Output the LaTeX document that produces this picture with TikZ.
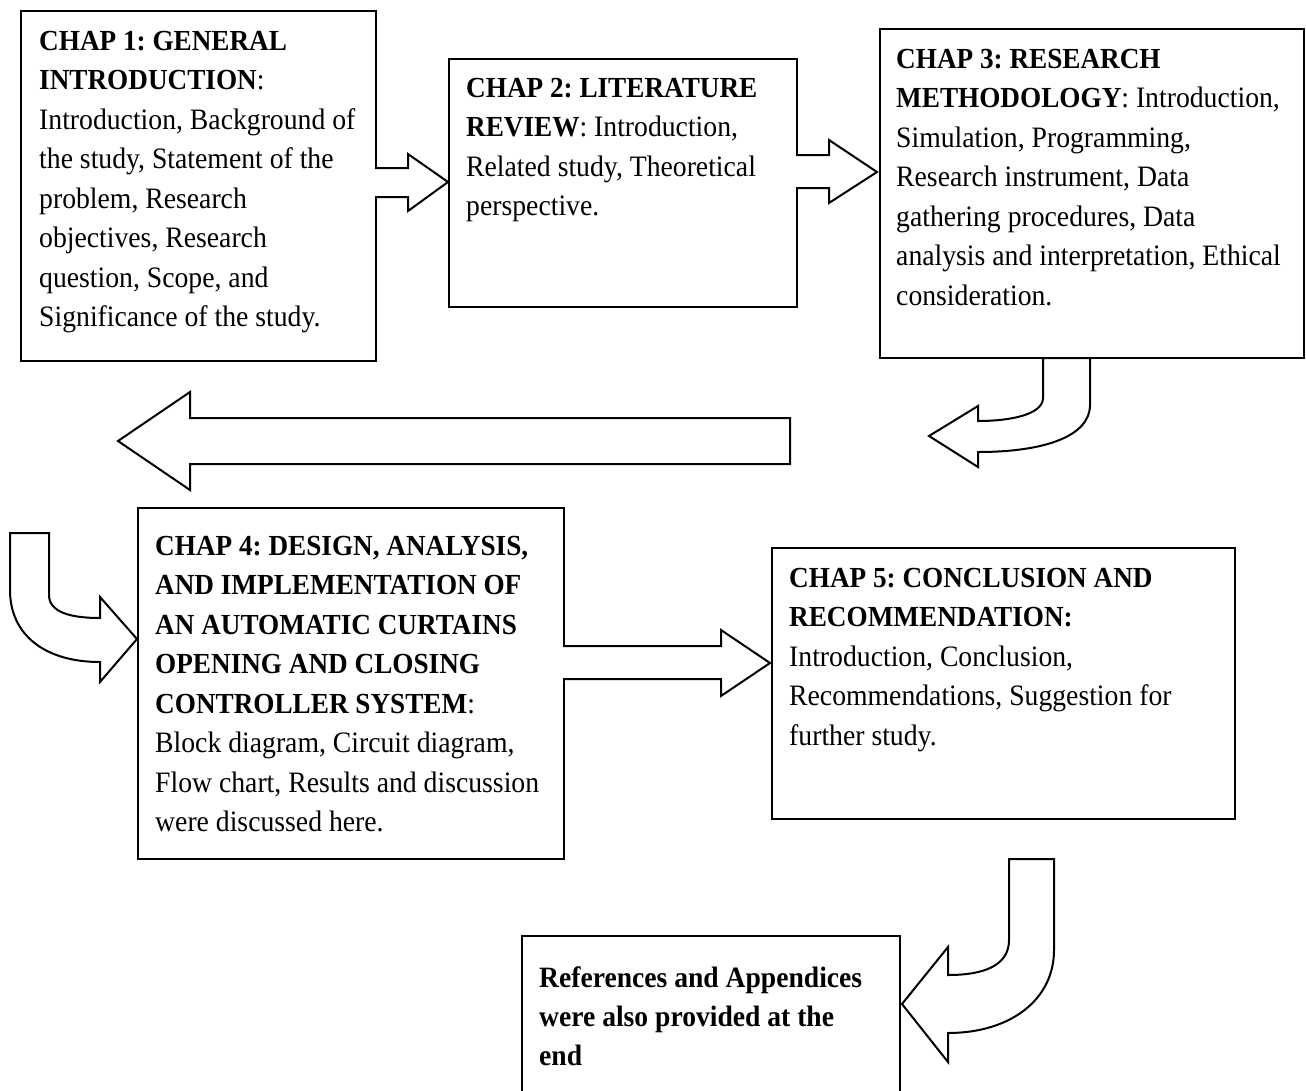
\documentclass[tikz,border=0pt]{standalone}
\usepackage{fontspec}
\usepackage{graphicx}
\setmainfont{Liberation Serif}
\frenchspacing
\newcommand{\bx}[1]{{\fontsize{27.2}{36.9}\selectfont\bfseries #1}}
\newcommand{\stretched}[1]{\scalebox{1}[1.07]{\begin{tabular}[t]{@{}l@{}}#1\end{tabular}}}
\begin{document}
\begin{tikzpicture}[x=1pt,y=-1pt,
  box/.style={draw=black, line width=2.4pt, rectangle, anchor=north west, inner sep=0pt},
  txt/.style={anchor=north west, inner sep=0pt, align=left,
    font=\fontsize{27.7}{36.9}\selectfont},
  barrow/.style={draw=black, line width=2pt, fill=white, line join=miter}]
\useasboundingbox (0,0) rectangle (1306,1090);
% boxes
\node[box, minimum width=355pt, minimum height=350pt] (b1) at (20,10) {};
\node[box, minimum width=348pt, minimum height=248pt] (b2) at (448,58) {};
\node[box, minimum width=424pt, minimum height=329pt] (b3) at (879,28) {};
\node[box, minimum width=426pt, minimum height=351pt] (b4) at (137,507) {};
\node[box, minimum width=463pt, minimum height=271pt] (b5) at (771,547) {};
\node[box, minimum width=378pt, minimum height=160pt] (b6) at (521,935) {};
% texts
\node[txt] (t1) at (39,22.5) {\stretched{\bx{CHAP 1: GENERAL}\\ \bx{INTRODUCTION}:\\ Introduction, Background of\\ the study, Statement of the\\ problem, Research\\ objectives, Research\\ question, Scope, and\\ Significance of the study.}};
\node[txt] (t2) at (466,69.5) {\stretched{\bx{CHAP 2: LITERATURE}\\ \bx{REVIEW}: Introduction,\\ Related study, Theoretical\\ perspective.}};
\node[txt] (t3) at (896,40.5) {\stretched{\bx{CHAP 3: RESEARCH}\\ \bx{METHODOLOGY}: Introduction,\\ Simulation, Programming,\\ Research instrument, Data\\ gathering procedures, Data\\ analysis and interpretation, Ethical\\ consideration.}};
\node[txt] (t4) at (155,527.5) {\stretched{\bx{CHAP 4: DESIGN, ANALYSIS,}\\ \bx{AND IMPLEMENTATION OF}\\ \bx{AN AUTOMATIC CURTAINS}\\ \bx{OPENING AND CLOSING}\\ \bx{CONTROLLER SYSTEM}:\\ Block diagram, Circuit diagram,\\ Flow chart, Results and discussion\\ were discussed here.}};
\node[txt] (t5) at (789,559.5) {\stretched{\bx{CHAP 5: CONCLUSION AND}\\ \bx{RECOMMENDATION:}\\ Introduction, Conclusion,\\ Recommendations, Suggestion for\\ further study.}};
\node[txt, font=\fontsize{27.6}{36.5}\selectfont\bfseries] (t6) at (539,959.5) {\stretched{References and Appendices\\ were also provided at the\\ end}};
% block arrows
\draw[barrow] (375,168) -- (408,168) -- (408,154) -- (448,182) -- (408,211) -- (408,197) -- (375,197);
\draw[barrow] (796,155) -- (829,155) -- (829,140) -- (877,172) -- (829,203) -- (829,188) -- (796,188);
\draw[barrow] (1043,358) -- (1043,398) .. controls (1043,414) and (1012,421) .. (978,421)
  -- (978,406) -- (929,436) -- (978,467) -- (978,452)
  .. controls (1045,452) and (1090,436) .. (1090,405) -- (1090,358) -- cycle;
\draw[barrow] (790,418) -- (190,418) -- (190,392) -- (118,441) -- (190,490) -- (190,464) -- (790,464) -- cycle;
\draw[barrow] (10,533) -- (49,533) -- (49,595) .. controls (49,612) and (70,618) .. (100,618)
  -- (100,597) -- (137,639) -- (100,682) -- (100,662)
  .. controls (45,662) and (10,635) .. (10,590) -- cycle;
\draw[barrow] (563,646) -- (721,646) -- (721,630) -- (770,663) -- (721,696) -- (721,679) -- (563,679);
\draw[barrow] (1009,859) -- (1054,859) -- (1054,950) .. controls (1054,1000) and (1010,1033) .. (948,1033)
  -- (948,1062) -- (902,1004) -- (948,947) -- (948,975)
  .. controls (985,975) and (1009,965) .. (1009,940) -- cycle;
\end{tikzpicture}
\end{document}
